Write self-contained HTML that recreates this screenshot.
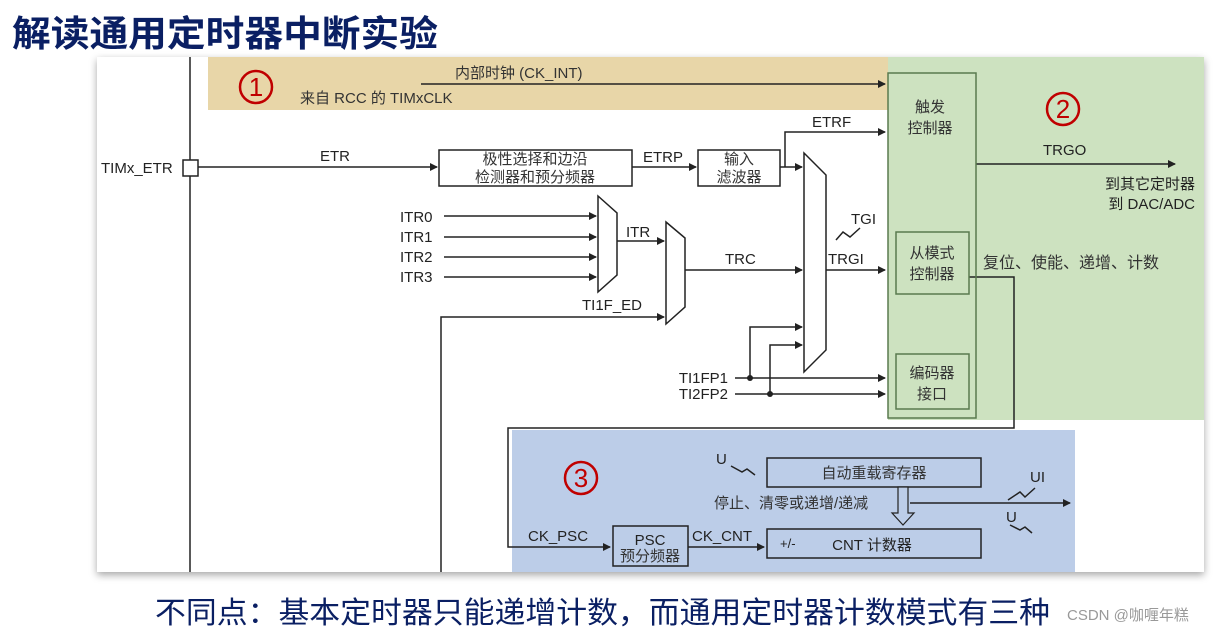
<!DOCTYPE html>
<html><head><meta charset="utf-8"><style>
body{margin:0;background:#fff;width:1216px;height:634px;overflow:hidden;font-family:"Liberation Sans","Noto Sans CJK SC",sans-serif}
</style></head><body>
<svg width="1216" height="634" viewBox="0 0 1216 634" xmlns="http://www.w3.org/2000/svg" font-family="Liberation Sans, Noto Sans CJK SC, sans-serif">
<defs>
<marker id="a" markerWidth="8" markerHeight="8" refX="7" refY="4" orient="auto" markerUnits="userSpaceOnUse"><path d="M0,0 L8,4 L0,8 z" fill="#222"/></marker>
<filter id="sh" x="-5%" y="-5%" width="110%" height="115%"><feDropShadow dx="0" dy="3" stdDeviation="4" flood-color="#000" flood-opacity="0.35"/></filter>
</defs>
<text x="12" y="46" font-size="36" font-weight="bold" fill="#0a1f63" font-family="Noto Sans CJK SC, sans-serif" textLength="426" lengthAdjust="spacingAndGlyphs">解读通用定时器中断实验</text>
<rect x="97" y="57" width="1107" height="515" fill="#fff" filter="url(#sh)"/>
<rect x="208" y="57" width="680" height="53" fill="#e8d6a8"/>
<rect x="888" y="57" width="316" height="363" fill="#cde2c0"/>
<rect x="512" y="430" width="563" height="142" fill="#bccde8"/>
<g stroke="#222" stroke-width="1.5" fill="none">
<line x1="190" y1="57" x2="190" y2="572"/>
<line x1="421" y1="84" x2="885" y2="84" marker-end="url(#a)"/>
<rect x="183" y="160" width="15" height="16" fill="#fff"/>
<line x1="198" y1="167" x2="437" y2="167" marker-end="url(#a)"/>
<rect x="439" y="150" width="193" height="36" fill="#fff"/>
<line x1="632" y1="167" x2="696" y2="167" marker-end="url(#a)"/>
<rect x="698" y="150" width="82" height="36" fill="#fff"/>
<line x1="780" y1="167" x2="802" y2="167" marker-end="url(#a)"/>
<polyline points="785,167 785,132 885,132" marker-end="url(#a)"/>
<polygon points="804,153 826,175 826,350 804,372" fill="#fff"/>
<polygon points="598,196 617,213 617,275 598,292" fill="#fff"/>
<line x1="444" y1="216" x2="596" y2="216" marker-end="url(#a)"/>
<line x1="444" y1="237" x2="596" y2="237" marker-end="url(#a)"/>
<line x1="444" y1="257" x2="596" y2="257" marker-end="url(#a)"/>
<line x1="444" y1="277" x2="596" y2="277" marker-end="url(#a)"/>
<line x1="617" y1="241" x2="664" y2="241" marker-end="url(#a)"/>
<polygon points="666,222 685,238 685,307 666,324" fill="#fff"/>
<line x1="685" y1="270" x2="802" y2="270" marker-end="url(#a)"/>
<polyline points="441,572 441,317 664,317" marker-end="url(#a)"/>
<line x1="826" y1="270" x2="885" y2="270" marker-end="url(#a)"/>
<polyline points="836,240 843,232 850,237 860,228" />
<polyline points="750,378 750,327 802,327" marker-end="url(#a)"/>
<polyline points="770,394 770,345 802,345" marker-end="url(#a)"/>
<line x1="735" y1="378" x2="885" y2="378" marker-end="url(#a)"/>
<line x1="735" y1="394" x2="885" y2="394" marker-end="url(#a)"/>
<line x1="976" y1="164" x2="1175" y2="164" marker-end="url(#a)"/>
<polyline points="969,277 1014,277 1014,428 508,428 508,547 610,547" marker-end="url(#a)"/>
<rect x="613" y="526" width="75" height="40"/>
<line x1="688" y1="547" x2="764" y2="547" marker-end="url(#a)"/>
<rect x="767" y="529" width="214" height="29"/>
<rect x="767" y="458" width="214" height="29"/>
<line x1="910" y1="503" x2="1070" y2="503" marker-end="url(#a)"/>
<polygon points="898,487 908,487 908,513 914,513 903,525 892,513 898,513" fill="#bccde8" stroke-width="1.2"/>
<polyline points="731,466 742,472 747,469 755,475" />
<polyline points="1008,500 1020,492 1025,497 1035,488" />
<polyline points="1010,525 1020,530 1025,527 1032,533" />
</g>
<g fill="#222"><circle cx="750" cy="378" r="3"/><circle cx="770" cy="394" r="3"/></g>
<g stroke="#5a7a4f" stroke-width="1.5" fill="none">
<rect x="888" y="73" width="88" height="345"/>
<rect x="896" y="232" width="73" height="62"/>
<rect x="896" y="354" width="73" height="55"/>
</g>
<g font-size="15" fill="#222">
<text x="101" y="173">TIMx_ETR</text>
<text x="320" y="161">ETR</text>
<text x="643" y="162">ETRP</text>
<text x="812" y="127">ETRF</text>
<text x="400" y="222">ITR0</text><text x="400" y="242">ITR1</text><text x="400" y="262">ITR2</text><text x="400" y="282">ITR3</text>
<text x="626" y="237">ITR</text>
<text x="725" y="264">TRC</text>
<text x="582" y="310">TI1F_ED</text>
<text x="828" y="264">TRGI</text>
<text x="851" y="224">TGI</text>
<text x="728" y="383" text-anchor="end">TI1FP1</text>
<text x="728" y="399" text-anchor="end">TI2FP2</text>
<text x="1043" y="155">TRGO</text>
<text x="1195" y="209" text-anchor="end">到 DAC/ADC</text>
<text x="1195" y="189" text-anchor="end">到其它定时器</text>
<text x="983" y="268" fill="#333" font-size="16">复位、使能、递增、计数</text>
<text x="528" y="541">CK_PSC</text>
<text x="692" y="541">CK_CNT</text>
<text x="716" y="464">U</text>
<text x="1030" y="482">UI</text>
<text x="1006" y="522">U</text>
<text x="714" y="508" fill="#333">停止、清零或递增/递减</text>
<text x="300" y="103" fill="#333">来自 RCC 的 TIMxCLK</text>
<text x="455" y="78" fill="#333">内部时钟 (CK_INT)</text>
</g>
<g font-size="15" fill="#333" text-anchor="middle">
<text x="535" y="164">极性选择和边沿</text><text x="535" y="182">检测器和预分频器</text>
<text x="739" y="164">输入</text><text x="739" y="182">滤波器</text>
<text x="930" y="112">触发</text><text x="930" y="133">控制器</text>
<text x="932" y="258">从模式</text><text x="932" y="279">控制器</text>
<text x="932" y="378">编码器</text><text x="932" y="399">接口</text>
<text x="874" y="478">自动重载寄存器</text>
<text x="650" y="545" font-size="15" fill="#222">PSC</text><text x="650" y="561">预分频器</text>
<text x="872" y="550" font-size="15" fill="#222">CNT 计数器</text>
</g>
<text x="780" y="548" font-size="13" fill="#222">+/-</text>
<g fill="none" stroke="#c00000" stroke-width="2.5">
<circle cx="256" cy="87" r="16"/><circle cx="1063" cy="109" r="16"/><circle cx="581" cy="478" r="16"/>
</g>
<g font-size="26" fill="#c00000" text-anchor="middle">
<text x="256" y="96">1</text><text x="1063" y="118">2</text><text x="581" y="487">3</text>
</g>
<text x="155" y="623" font-size="30" fill="#0a1f63" font-family="Noto Sans CJK SC, sans-serif" textLength="895" lengthAdjust="spacingAndGlyphs">不同点：基本定时器只能递增计数，而通用定时器计数模式有三种</text>
<text x="1067" y="620" font-size="15" fill="#999">CSDN @咖喱年糕</text>
</svg>
</body></html>
